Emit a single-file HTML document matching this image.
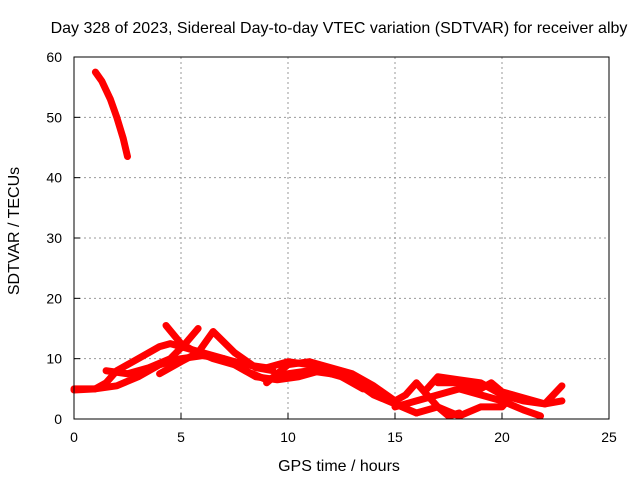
<!DOCTYPE html>
<html><head><meta charset="utf-8"><style>
body{margin:0;background:#fff}
svg text{font-family:"Liberation Sans",sans-serif;font-size:14px;fill:#000}
svg text.big{font-size:16px}
</style></head><body>
<svg id="chart" width="640" height="480">
<rect width="640" height="480" fill="#fff"/>
<text class="big" x="339" y="33" text-anchor="middle">Day 328 of 2023, Sidereal Day-to-day VTEC variation (SDTVAR) for receiver alby</text>
<text class="big" x="339" y="471" text-anchor="middle">GPS time / hours</text>
<text class="big" transform="translate(19,231) rotate(-90)" text-anchor="middle">SDTVAR / TECUs</text>
<g id="grid"></g><g id="series"></g><g id="axes"></g>
</svg>
<script>
const xTicks=[0,5,10,15,20,25];
const yTicks=[0,10,20,30,40,50,60];
const s1=[[1.0,57.5],[1.3,56],[1.7,53],[2.0,50],[2.3,46.5],[2.5,43.5]];
const s2=[[0,5],[1,5],[2,5.5],[3,7],[4,9],[5,10],[6,10.5],[7,10],[8,8],[9,6.5],[10,7.5],[11,8],[12,7.5],[13,7],[14,4.5],[15,3]];
const s3=[[0,4.8],[1,5],[1.5,6],[2,8],[3,10],[4,12],[4.5,12.5],[5,12],[6,11],[7,10],[8,9],[9,8.5],[10,9.5],[11,9],[12,8],[13,6.5],[14,4],[15,2.5],[16,1]];
const s4=[[4.3,15.5],[5,12.5],[5.5,11.5],[6.5,10],[7.5,9],[8.5,7],[9.5,6.5],[10.5,7],[11.5,8],[12.5,7],[13.5,5]];
const s5=[[1.5,8],[2.5,7.5],[3.5,8.5],[4.5,10],[5.2,12.5],[5.8,15]];
const s6=[[4,7.5],[5,9.5],[5.8,11],[6.5,14.5],[7.5,11],[8.5,8.5],[9.3,8]];
const s7=[[9,6],[10,9],[11,9.5],[12,8.5],[13,7.5],[14,5.5],[15,3],[15.5,4],[16,6],[16.5,4],[17,2],[17.5,0.5],[18,1]];
const s8=[[16.5,5],[17,7],[18,6.5],[19,6],[20,4],[21,3],[22,2.5],[22.8,3]];
const s9=[[15,2],[16,3],[17,4],[18,5],[19,4],[20,3],[21,1.5],[21.8,0.5]];
const s10=[[17,6],[18,6],[19,5],[19.5,6],[20,4.5],[21,3.5],[22,2.5],[22.8,5.5]];
const s11=[[16,1],[17,2],[18,0.5],[19,2],[20,2],[20.5,4]];
const allSeries=[s1,s2,s3,s4,s5,s6,s7,s8,s9,s10,s11];
const L=74,R=609,T=57,B=419;
const X=v=>L+(v-0)/(25-0)*(R-L);
const Y=v=>B-(v-0)/(60-0)*(B-T);
const NS='http://www.w3.org/2000/svg';
function mk(tag,at,parent){const e=document.createElementNS(NS,tag);for(const k in at)e.setAttribute(k,at[k]);document.getElementById(parent).appendChild(e);return e;}
xTicks.forEach(t=>{
 if(t>0&&t<25){const g=mk('line',{x1:X(t),x2:X(t),y1:T,y2:B,stroke:'#999','stroke-dasharray':'2,3'},'grid');
 
 }
 const tk=mk('line',{x1:X(t),x2:X(t),y1:B,y2:B-6,stroke:'#000'},'axes');
 
 
 const tx=mk('text',{x:X(t),y:B+23,'text-anchor':'middle'},'axes');tx.textContent=t;
 
 
});
yTicks.forEach(t=>{
 if(t>0&&t<60){const g=mk('line',{x1:L,x2:R,y1:Y(t),y2:Y(t),stroke:'#999','stroke-dasharray':'2,3'},'grid');
 
 }
 const tk=mk('line',{x1:L,x2:L+6,y1:Y(t),y2:Y(t),stroke:'#000'},'axes');
 
 
 const tx=mk('text',{x:L-12,y:Y(t)+5,'text-anchor':'end'},'axes');tx.textContent=t;
 
 
});
const fr=mk('rect',{x:L,y:T,width:R-L,height:B-T,fill:'none',stroke:'#000'},'axes');


allSeries.forEach(s=>{
 const p=mk('polyline',{points:s.map(d=>X(d[0])+','+Y(d[1])).join(' '),fill:'none',stroke:'#f00','stroke-width':7,'stroke-linejoin':'round','stroke-linecap':'round'},'series');
 
 
});
</script>
</body></html>
